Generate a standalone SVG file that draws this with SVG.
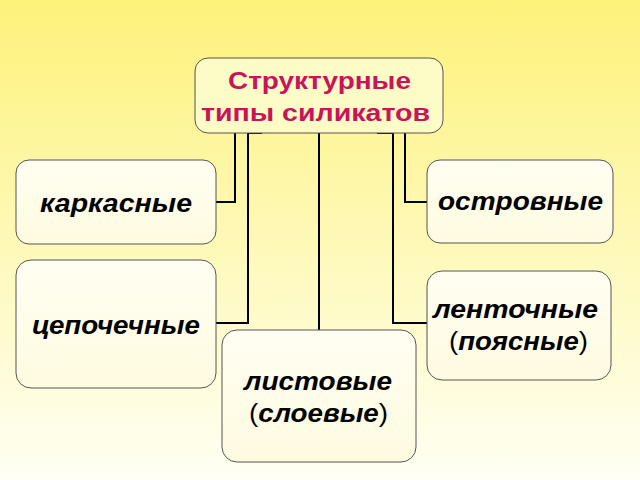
<svg xmlns="http://www.w3.org/2000/svg" width="640" height="480" viewBox="0 0 640 480">
<defs>
<linearGradient id="bg" x1="0" y1="0" x2="0" y2="1"><stop offset="0" stop-color="#fdf27a"/><stop offset="1" stop-color="#fffff4"/></linearGradient>
<linearGradient id="nb" x1="0" y1="0" x2="0" y2="1"><stop offset="0" stop-color="#fffef2"/><stop offset="1" stop-color="#fffbe0"/></linearGradient>
<style>
.n{fill:url(#nb);stroke:#555;stroke-width:1}
.t{font-family:"Liberation Sans",Arial,sans-serif;font-weight:bold;font-style:italic;font-size:25px;fill:#000}
.r{font-family:"Liberation Sans",Arial,sans-serif;font-weight:bold;font-size:24px;fill:#c8145a}
.c{fill:none;stroke:#000;stroke-width:2}
</style>
</defs>
<rect width="640" height="480" fill="url(#bg)"/>
<g id="connectors">
<path class="c" d="M235,133V202H216"/>
<path class="c" d="M262,133H248V323H216"/>
<path class="c" d="M319,133V330"/>
<path class="c" d="M377,133H393V323H427"/>
<path class="c" d="M405,133V202H427"/>
</g>
<g id="root"><rect x="195" y="58" width="248" height="75" rx="13" fill="#fdfbc6" stroke="#555"/>
<text class="r" x="228" y="89" textLength="183" lengthAdjust="spacingAndGlyphs">Структурные</text>
<text class="r" x="201" y="121" textLength="229" lengthAdjust="spacingAndGlyphs">типы силикатов</text></g>
<g id="karkas"><rect class="n" x="16" y="160" width="200" height="84" rx="13"/><text class="t" x="40" y="212" textLength="152" lengthAdjust="spacingAndGlyphs">каркасные</text></g>
<g id="ostrov"><rect class="n" x="427" y="160" width="186" height="83" rx="13"/><text class="t" x="438" y="210" textLength="165" lengthAdjust="spacingAndGlyphs">островные</text></g>
<g id="cepoch"><rect class="n" x="16" y="260" width="200" height="128" rx="15"/><text class="t" x="32" y="334" textLength="168" lengthAdjust="spacingAndGlyphs">цепочечные</text></g>
<g id="lent"><rect class="n" x="427" y="271" width="184" height="109" rx="15"/><text class="t" x="433" y="318" textLength="165" lengthAdjust="spacingAndGlyphs">ленточные</text><text class="t" x="449" y="350" textLength="139" lengthAdjust="spacingAndGlyphs"><tspan font-style="normal" font-weight="normal">(</tspan>поясные<tspan font-style="normal" font-weight="normal">)</tspan></text></g>
<g id="list"><rect class="n" x="222" y="330" width="194" height="132" rx="15"/><text class="t" x="244" y="390" textLength="148" lengthAdjust="spacingAndGlyphs">листовые</text><text class="t" x="249" y="422" textLength="139" lengthAdjust="spacingAndGlyphs"><tspan font-style="normal" font-weight="normal">(</tspan>слоевые<tspan font-style="normal" font-weight="normal">)</tspan></text></g>
</svg>
